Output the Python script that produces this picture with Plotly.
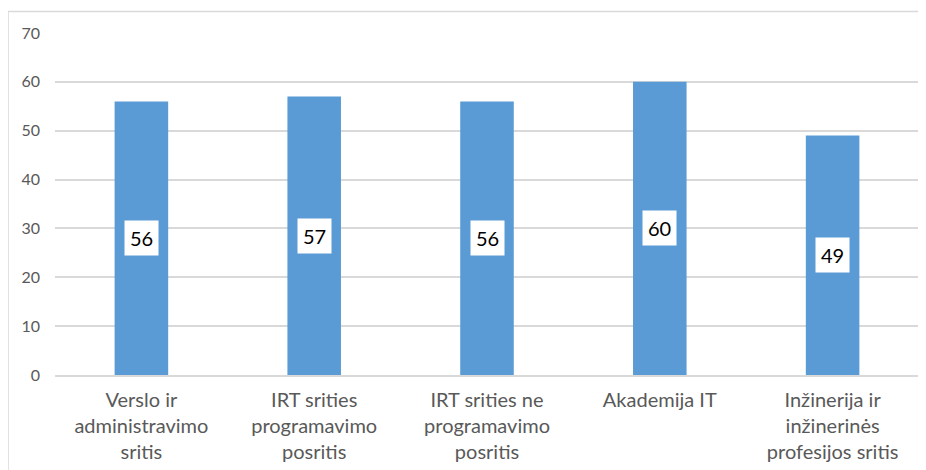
import plotly.graph_objects as go

categories = ["Verslo ir<br>administravimo<br>sritis",
              "IRT srities<br>programavimo<br>posritis",
              "IRT srities ne<br>programavimo<br>posritis",
              "Akademija IT",
              "Inžinerija ir<br>inžinerinės<br>profesijos sritis"]
values = [56, 57, 56, 60, 49]
y_ticks = [0, 10, 20, 30, 40, 50, 60, 70]

FONT = "Lato, Carlito, Calibri, sans-serif"

fig = go.Figure(go.Bar(x=categories, y=values, marker_color="#5B9BD5",
                       marker_line_width=0, hoverinfo="skip"))

for c, v in zip(categories, values):
    fig.add_annotation(x=c, y=v / 2, text=str(v), showarrow=False,
                       bgcolor="white", borderpad=5,
                       font=dict(family=FONT, size=20, color="black"))

fig.add_shape(type="rect", xref="paper", yref="paper",
              x0=-0.0544, x1=1.2, y0=-0.6, y1=1.063,
              line=dict(color="#d9d9d9", width=1.5), layer="below")

fig.update_layout(
    width=926, height=470,
    margin=dict(l=47, r=15, t=25, b=103),
    paper_bgcolor="white", plot_bgcolor="white",
    bargap=0.69, showlegend=False,
    font=dict(family=FONT, color="#595959"),
    xaxis=dict(showgrid=False, showline=True, linecolor="#d9d9d9", linewidth=1.5,
               ticks="", tickangle=0, ticklabelstandoff=6,
               tickfont=dict(size=20, color="#595959")),
    yaxis=dict(range=[0, 70], tickvals=y_ticks, showgrid=True, gridcolor="#d9d9d9",
               gridwidth=1.5, zeroline=False, showline=False, ticks="",
               ticklabelstandoff=14, tickfont=dict(size=16, color="#595959")),
)

fig.write_html("out.html")
